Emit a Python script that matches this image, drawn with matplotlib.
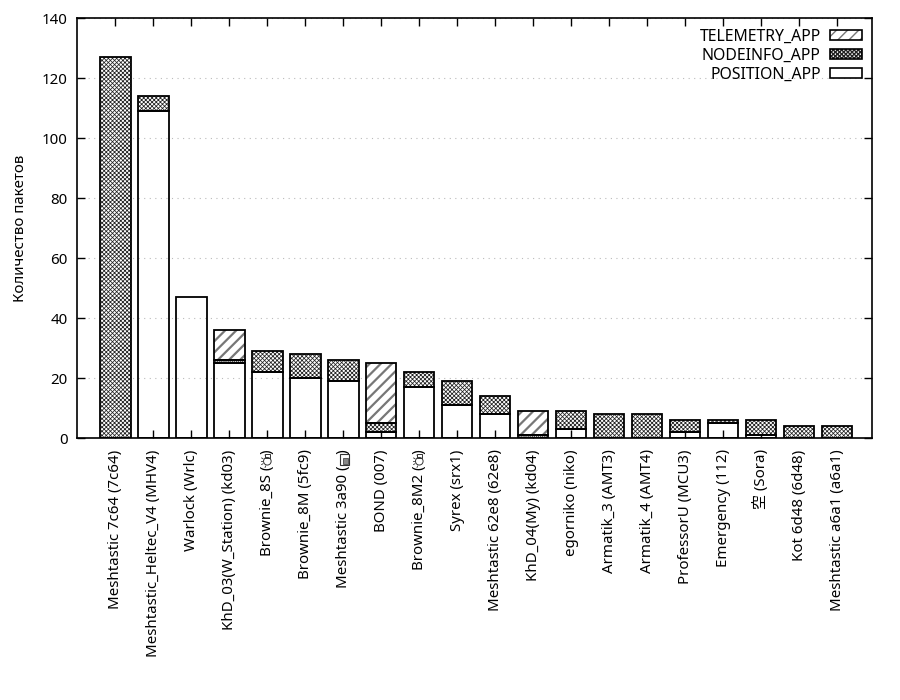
import matplotlib
matplotlib.use('Agg')
import matplotlib.pyplot as plt
import numpy as np
from matplotlib.patches import Patch, Circle, Rectangle
from matplotlib.lines import Line2D
from matplotlib.legend_handler import HandlerTuple

plt.rcParams['font.family'] = ['Noto Sans', 'Noto Sans CJK JP', 'DejaVu Sans']

# 💡 / 📟 не найдены ни в одном шрифте - рисуем их ниже вручную
nodes = ['Meshtastic 7c64 (7c64)', 'Meshtastic_Heltec_V4 (MHV4)', 'Warlock (Wrlc)',
         'KhD_03(W_Station) (kd03)', 'Brownie_8S (💡)', 'Brownie_8M (5fc9)',
         'Meshtastic 3a90 (📟)', 'BOND (007)', 'Brownie_8M2 (💡)', 'Syrex (srx1)',
         'Meshtastic 62e8 (62e8)', 'KhD_04(My) (kd04)', 'egorniko (niko)',
         'Armatik_3 (AMT3)', 'Armatik_4 (AMT4)', 'ProfessorU (MCU3)', 'Emergency (112)',
         '空 (Sora)', 'Kot 6d48 (6d48)', 'Meshtastic a6a1 (a6a1)']
position_app = [0, 109, 47, 25, 22, 20, 19, 2, 17, 11, 8, 0, 3, 0, 0, 2, 5, 1, 0, 0]
nodeinfo_app = [127, 5, 0, 1, 7, 8, 7, 3, 5, 8, 6, 1, 6, 8, 8, 4, 1, 5, 4, 4]
telemetry_app = [0, 0, 0, 10, 0, 0, 0, 20, 0, 0, 0, 8, 0, 0, 0, 0, 0, 0, 0, 0]

EMOJI = ['💡', '📟']
GAP = '   '

fig = plt.figure(figsize=(9, 7), dpi=100)
ax = fig.add_axes([0.086, 0.374, 0.883, 0.6])

x = np.arange(len(nodes))
w = 0.8
pos = np.array(position_app)
nod = np.array(nodeinfo_app)
tel = np.array(telemetry_app)


def layer(vals, bottom, hatch, hcol, hlw):
    m = vals > 0
    if hatch:
        with plt.rc_context({'hatch.linewidth': hlw}):
            ax.bar(x[m], vals[m], w, bottom=bottom[m], facecolor='white', edgecolor=hcol,
                   hatch=hatch, linewidth=0, zorder=2)
    ax.bar(x[m], vals[m], w, bottom=bottom[m], facecolor='none', edgecolor='black',
           linewidth=1.3, zorder=3)


layer(pos, np.zeros(len(x)), None, None, None)
layer(nod, pos, 'xxxxxxxx', '#222222', 0.55)
layer(tel, pos + nod, '///', '#777777', 1.6)

labels_txt = []
for n in nodes:
    for e in EMOJI:
        n = n.replace(e, GAP)
    labels_txt.append(n)

ax.set_xlim(-1, 19.92)
ax.set_ylim(0, 140)
ax.set_yticks(range(0, 141, 20))
ax.set_xticks(x)
ax.set_xticklabels(labels_txt, rotation=90, fontsize=10.8)
ax.tick_params(axis='y', labelsize=10.8, pad=7)
ax.tick_params(direction='in', top=True, right=True, length=6, width=1)
ax.tick_params(axis='x', pad=8)
ax.yaxis.grid(True, linestyle=(0, (1, 4)), color='#bbbbbb', linewidth=0.8, zorder=0)
ax.set_axisbelow(True)
for s in ax.spines.values():
    s.set_linewidth(1.2)
ax.set_ylabel('Количество пакетов', fontsize=10.8, labelpad=10)

with plt.rc_context({'hatch.linewidth': 0.55}):
    hn = Patch(facecolor='white', edgecolor='#222222', hatch='xxxxxxxx', linewidth=0)
with plt.rc_context({'hatch.linewidth': 1.6}):
    ht = Patch(facecolor='white', edgecolor='#777777', hatch='///', linewidth=0)
box = Patch(facecolor='none', edgecolor='black', linewidth=1.2)
h_pos = Patch(facecolor='white', edgecolor='black', linewidth=1.2)
ax.legend([(ht, box), (hn, box), h_pos], ['TELEMETRY_APP', 'NODEINFO_APP', 'POSITION_APP'],
          handler_map={tuple: HandlerTuple(ndivide=1, pad=0)},
          loc='upper right', frameon=False, markerfirst=False, fontsize=11.4,
          handlelength=2.0, handleheight=0.6, labelspacing=0.2,
          handletextpad=0.6, borderaxespad=0.25)

# иконки вместо эмодзи
fig.canvas.draw()
rend = fig.canvas.get_renderer()
ticklabels = ax.get_xticklabels()
for i, n in enumerate(nodes):
    for e in EMOJI:
        if e not in n:
            continue
        lbl = ticklabels[i]
        fp = lbl.get_fontproperties()
        prefix = labels_txt[i][:n.index(e)]
        wp = rend.get_text_width_height_descent(prefix, fp, ismath=False)[0]
        wg = rend.get_text_width_height_descent(GAP, fp, ismath=False)[0]
        bb = lbl.get_window_extent(rend)
        cy = (bb.y0 + wp + wg / 2) / 100.0
        cx = (bb.x0 + bb.x1) / 2 / 100.0 + 0.01
        tr = fig.dpi_scale_trans
        if e == '💡':
            fig.add_artist(Circle((cx - 0.01, cy - 0.015), 0.038, fill=False, lw=0.7,
                                  ec='#333333', transform=tr))
            fig.add_artist(Rectangle((cx - 0.035, cy + 0.022), 0.05, 0.035, fill=False, lw=0.7,
                                     ec='#333333', transform=tr))
            for a in np.deg2rad([150, 180, 210, 250, 110]):
                fig.add_artist(Line2D([cx - 0.01 + 0.05 * np.cos(a), cx - 0.01 + 0.066 * np.cos(a)],
                                      [cy - 0.015 - 0.05 * np.sin(a), cy - 0.015 - 0.066 * np.sin(a)],
                                      lw=0.6, color='#333333', transform=tr))
        else:
            fig.add_artist(Rectangle((cx - 0.048, cy - 0.055), 0.096, 0.11, fill=False, lw=0.8,
                                     ec='#333333', transform=tr))
            fig.add_artist(Rectangle((cx - 0.01, cy - 0.045), 0.048, 0.06, fc='#888888',
                                     ec='#333333', lw=0.5, transform=tr))

fig.savefig('out.png', dpi=100)
